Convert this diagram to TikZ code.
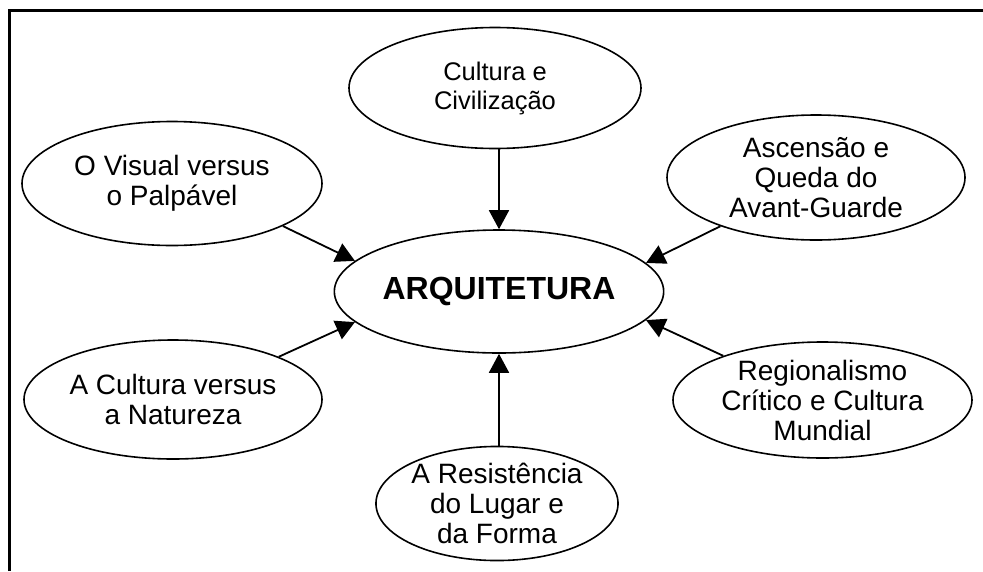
\documentclass[tikz,border=0pt]{standalone}
\usepackage{fontspec}
\setmainfont{Liberation Sans}
\usetikzlibrary{shapes.geometric,arrows.meta}
\begin{document}
\begin{tikzpicture}[x=1pt,y=-1pt,
  bub/.style={ellipse,draw,line width=1.6pt,inner sep=0pt,align=center,
    font=\fontsize{28}{30}\selectfont},
  arr/.style={line width=1.8pt,-{Triangle[length=19pt,width=20pt]}}]
\useasboundingbox (0,0) rectangle (983,571);
\draw[line width=2.6pt] (9.5,571) -- (9.5,10.5) -- (983,10.5);

\node[bub,minimum width=292pt,minimum height=123pt,font=\fontsize{32}{36}\selectfont\bfseries] (c) at (499,291.5) {ARQUITETURA};
\node[bub,minimum width=292pt,minimum height=121pt,font=\fontsize{25.5}{29}\selectfont] (cc) at (495,88) {Cultura e\\Civilização};
\node[bub,minimum width=300pt,minimum height=124pt] (ov) at (172,183.5) {O Visual versus\\o Palpável};
\node[bub,minimum width=298pt,minimum height=125pt] (aq) at (816,177.5) {Ascensão e\\Queda do\\Avant-Guarde};
\node[bub,minimum width=298pt,minimum height=119pt] (acn) at (173,399.5) {A Cultura versus\\a Natureza};
\node[bub,minimum width=299pt,minimum height=116pt] (rc) at (822.5,400) {Regionalismo\\Crítico e Cultura\\Mundial};
\node[bub,minimum width=230pt,minimum height=112pt] (rl) at (497,503.5) {A Resistência\\do Lugar e\\da Forma};

\draw[arr] (c.north |- cc.south) -- (c.north);
\draw[arr] (c.south |- rl.north) -- (c.south);
\draw[arr] (ov.-21.6) -- (c.168.5);
\draw[arr] (acn.22) -- (c.-168.5);
\draw[arr] (aq.207.5) -- (c.11.5);
\draw[arr] (rc.156) -- (c.-11.5);
\end{tikzpicture}
\end{document}
